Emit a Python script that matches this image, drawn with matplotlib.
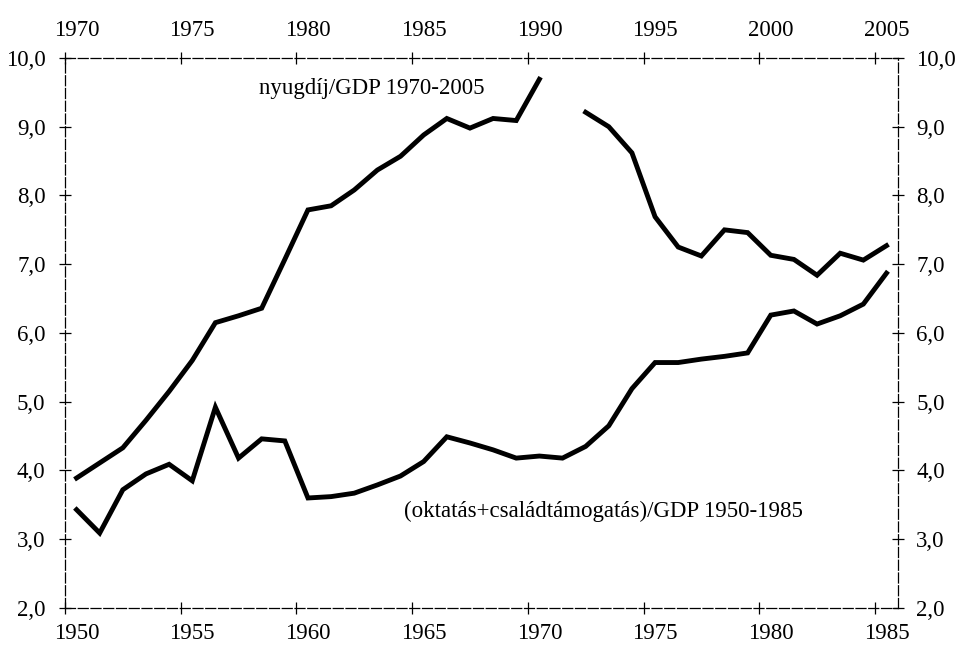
import matplotlib
matplotlib.use("Agg")
import matplotlib.pyplot as plt
import numpy as np
from matplotlib.ticker import FuncFormatter, MultipleLocator, FixedLocator, NullFormatter

# nyugdíj/GDP, 1970-2005 (1991 hiányzik)
evek_nyugdij = np.arange(1970, 2006)
nyugdij = [3.89, 4.11, 4.33, 4.73, 5.15, 5.60, 6.15, 6.25, 6.36, 7.07,
           7.79, 7.85, 8.08, 8.37, 8.57, 8.88, 9.12, 8.98, 9.12, 9.09,
           9.69, np.nan, 9.21, 9.00, 8.62, 7.69, 7.25, 7.12, 7.50, 7.46,
           7.13, 7.07, 6.84, 7.16, 7.06, 7.27]

# (oktatás+családtámogatás)/GDP, 1950-1985
evek_oktatas = np.arange(1950, 1986)
oktatas = [3.43, 3.09, 3.72, 3.95, 4.09, 3.85, 4.92, 4.18, 4.46, 4.43,
           3.60, 3.62, 3.67, 3.79, 3.92, 4.13, 4.49, 4.40, 4.30, 4.18,
           4.21, 4.18, 4.35, 4.65, 5.19, 5.57, 5.57, 5.62, 5.66, 5.71,
           6.26, 6.32, 6.13, 6.25, 6.42, 6.87]

ELTOLAS = 20  # a felső tengely 20 évvel később indul
FS = 16.5

plt.rcParams['font.family'] = ['Liberation Serif', 'DejaVu Serif']

fig = plt.figure(figsize=(9.57, 6.47), dpi=100)
ax = fig.add_axes([0.0679, 0.0603, 0.8705, 0.8501])

# a pontok az évek közepére kerülnek (kategória-tengely)
ax.plot(evek_oktatas + 0.5, oktatas, color="black", lw=3.5, solid_joinstyle="miter")
ax.plot(evek_nyugdij - ELTOLAS + 0.5, nyugdij, color="black", lw=3.5, solid_joinstyle="miter")

ax.set_xlim(1950, 1986)
ax.set_ylim(2, 10)

vesszo = FuncFormatter(lambda v, p: f"{v:.1f}".replace(".", ","))
evszam = FuncFormatter(lambda v, p: f"{int(v)}")


def evtengely(axis, kezdo):
    # tick jelek az évhatárokon, feliratok az évek közepén
    axis.set_major_locator(MultipleLocator(5))
    axis.set_major_formatter(NullFormatter())
    axis.set_minor_locator(FixedLocator(np.arange(kezdo, kezdo + 36, 5) + 0.5))
    axis.set_minor_formatter(evszam)


evtengely(ax.xaxis, 1950)
ax.yaxis.set_major_locator(MultipleLocator(1))
ax.yaxis.set_major_formatter(vesszo)
ax.tick_params(which="major", direction="inout", length=8, width=0.9, labelsize=FS, pad=10)
ax.tick_params(axis="x", which="minor", length=0, labelsize=FS, pad=11)

top = ax.secondary_xaxis("top", functions=(lambda x: x + ELTOLAS, lambda x: x - ELTOLAS))
evtengely(top.xaxis, 1970)
top.tick_params(which="major", direction="inout", length=8, width=0.9)
top.tick_params(which="minor", length=0, labelsize=FS, pad=12)

right = ax.secondary_yaxis("right")
right.yaxis.set_major_locator(MultipleLocator(1))
right.yaxis.set_major_formatter(vesszo)
right.tick_params(direction="inout", length=8, width=0.9, labelsize=FS, pad=9)

for s in ["top", "right"]:
    ax.spines[s].set_visible(False)
for sp in [ax.spines["left"], ax.spines["bottom"], top.spines["top"], right.spines["right"]]:
    sp.set_linestyle((0, (8, 2.2)))
    sp.set_linewidth(0.9)

ax.text(1963.25, 9.55, "nyugdíj/GDP 1970-2005", fontsize=FS, ha="center", va="center")
ax.text(1973.25, 3.40, "(oktatás+családtámogatás)/GDP 1950-1985", fontsize=FS,
        ha="center", va="center")

fig.savefig("out.png", dpi=100)
